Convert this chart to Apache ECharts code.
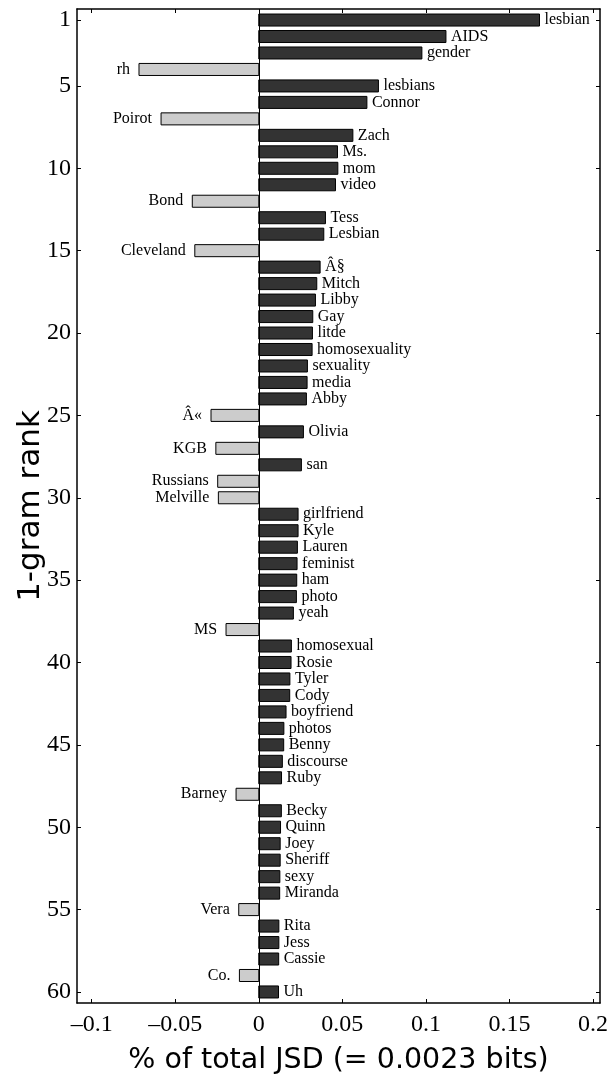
<!DOCTYPE html>
<html>
<head>
<meta charset="utf-8">
<script src="https://cdn.jsdelivr.net/npm/echarts@6/dist/echarts.min.js"></script>
<style>
  html, body { margin: 0; padding: 0; background: #fff; }
  #chart { width: 610px; height: 1074px; }
</style>
</head>
<body>
<div id="chart"></div>
<script>
// 1-gram words, in rank order (1..60)
const words = [
  'lesbian', 'AIDS', 'gender', 'rh', 'lesbians', 'Connor', 'Poirot', 'Zach', 'Ms.', 'mom',
  'video', 'Bond', 'Tess', 'Lesbian', 'Cleveland', 'Â§', 'Mitch', 'Libby', 'Gay', 'litde',
  'homosexuality', 'sexuality', 'media', 'Abby', 'Â«', 'Olivia', 'KGB', 'san', 'Russians', 'Melville',
  'girlfriend', 'Kyle', 'Lauren', 'feminist', 'ham', 'photo', 'yeah', 'MS', 'homosexual', 'Rosie',
  'Tyler', 'Cody', 'boyfriend', 'photos', 'Benny', 'discourse', 'Ruby', 'Barney', 'Becky', 'Quinn',
  'Joey', 'Sheriff', 'sexy', 'Miranda', 'Vera', 'Rita', 'Jess', 'Cassie', 'Co.', 'Uh'
]
// % of total JSD, signed (negative = light bars on the left)
const jsdShare = [
  0.168, 0.112, 0.0976, -0.0717, 0.0716, 0.0647, -0.0585, 0.0563, 0.0471, 0.0473,
  0.0459, -0.0398, 0.0399, 0.0389, -0.0383, 0.0367, 0.0347, 0.0339, 0.0323, 0.0321,
  0.0319, 0.0291, 0.0289, 0.0285, -0.0286, 0.0267, -0.0257, 0.0255, -0.0246, -0.0242,
  0.0235, 0.0235, 0.0231, 0.0229, 0.0227, 0.0225, 0.0207, -0.0196, 0.0195, 0.0193,
  0.0186, 0.0185, 0.0163, 0.015, 0.0149, 0.0141, 0.0136, -0.0136, 0.0135, 0.013,
  0.0128, 0.0128, 0.0126, 0.0125, -0.012, 0.012, 0.012, 0.0119, -0.0116, 0.0118
]
const xTicks = [-0.1, -0.05, 0, 0.05, 0.1, 0.15, 0.2]
const rankTicks = [1, 5, 10, 15, 20, 25, 30, 35, 40, 45, 50, 55, 60]

const serif = '"Liberation Serif", "DejaVu Serif", serif'
const sans = '"DejaVu Sans", sans-serif'

const chart = echarts.init(document.getElementById('chart'))

const data = jsdShare.map((v, i) => [v, i + 1])

const renderBar = (params, api) => {
  const v = api.value(0)
  const r = api.value(1)
  const p0 = api.coord([0, r])
  const p1 = api.coord([v, r])
  const h = api.size([0, 0.73])[1]
  const pos = v >= 0
  return {
    type: 'group',
    children: [
      {
        type: 'rect',
        shape: {
          x: Math.min(p0[0], p1[0]),
          y: p0[1] - h / 2,
          width: Math.abs(p1[0] - p0[0]),
          height: h
        },
        style: { fill: pos ? '#333333' : '#cccccc', stroke: '#000', lineWidth: 1 }
      },
      {
        type: 'text',
        x: pos ? p1[0] + 5 : p1[0] - 9,
        y: p0[1],
        style: {
          text: words[params.dataIndex],
          fill: '#000',
          font: '16px ' + serif,
          align: pos ? 'left' : 'right',
          verticalAlign: 'middle'
        }
      }
    ]
  }
}

const xCommon = {
  type: 'value',
  min: -0.1088,
  max: 0.2042,
  splitLine: { show: false },
  axisLine: { show: true, onZero: false, lineStyle: { color: '#000', width: 1.5 } },
  axisTick: { show: true, inside: true, length: 4, customValues: xTicks, lineStyle: { color: '#000' } }
}
const yCommon = {
  type: 'value',
  inverse: true,
  min: 0.33,
  max: 60.67,
  splitLine: { show: false },
  axisLine: { show: true, onZero: false, lineStyle: { color: '#000', width: 1.5 } },
  axisTick: { show: true, inside: true, length: 4, customValues: rankTicks, lineStyle: { color: '#000' } }
}

const option = {
  animation: false,
  backgroundColor: '#fff',
  grid: { left: 77, right: 10, top: 9, bottom: 71, outerBoundsMode: 'none', containLabel: false },
  xAxis: [
    {
      ...xCommon,
      position: 'bottom',
      axisLabel: {
        customValues: xTicks,
        margin: 10,
        color: '#000',
        fontFamily: serif,
        fontSize: 24,
        formatter: (v) => (v < 0 ? '\u2013' + Math.abs(v) : String(v))
      },
      name: '% of total JSD (= 0.0023 bits)',
      nameLocation: 'middle',
      nameMoveOverlap: false,
      nameGap: 43,
      nameTextStyle: { color: '#000', fontFamily: sans, fontSize: 28.5 }
    },
    { ...xCommon, position: 'top', axisLabel: { show: false } }
  ],
  yAxis: [
    {
      ...yCommon,
      position: 'left',
      axisLabel: {
        customValues: rankTicks,
        margin: 6,
        color: '#000',
        fontFamily: serif,
        fontSize: 24
      },
      name: '1-gram rank',
      nameLocation: 'middle',
      nameMoveOverlap: false,
      nameRotate: 90,
      nameGap: 31,
      nameTextStyle: { color: '#000', fontFamily: sans, fontSize: 31 }
    },
    { ...yCommon, position: 'right', axisLabel: { show: false } }
  ],
  series: [
    {
      type: 'custom',
      renderItem: renderBar,
      encode: { x: 0, y: 1 },
      data: data,
      clip: false,
      markLine: {
        silent: true,
        symbol: 'none',
        label: { show: false },
        lineStyle: { color: '#000', width: 1, type: 'solid' },
        data: [{ xAxis: 0 }]
      }
    }
  ]
}

chart.setOption(option)
</script>
</body>
</html>
